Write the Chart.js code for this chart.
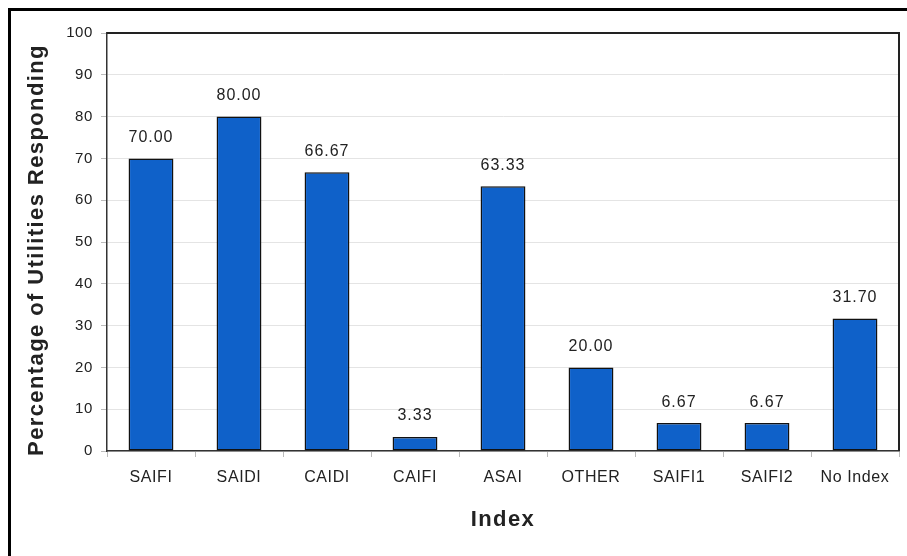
<!DOCTYPE html>
<html>
<head>
<meta charset="utf-8">
<script src="https://cdn.jsdelivr.net/npm/chart.js@4.4.1/dist/chart.umd.min.js"></script>
<style>
  html, body { margin: 0; padding: 0; background: #fff; }
  #wrap { position: relative; width: 907px; height: 556px; }
  #frame { position: absolute; left: 8px; top: 8px; right: -5px; bottom: -5px; border-top: 3px solid #000; border-left: 3px solid #000; pointer-events: none; }
</style>
</head>
<body>
<div id="wrap">
  <canvas id="myChart" width="907" height="556"></canvas>
  <div id="frame"></div>
</div>
<script>
const categories = ['SAIFI', 'SAIDI', 'CAIDI', 'CAIFI', 'ASAI', 'OTHER', 'SAIFI1', 'SAIFI2', 'No Index'];
const percentages = [70.00, 80.00, 66.67, 3.33, 63.33, 20.00, 6.67, 6.67, 31.70];
const yTicks = [0, 10, 20, 30, 40, 50, 60, 70, 80, 90, 100];
const xTitle = 'Index';
const yTitle = 'Percentage of Utilities Responding';

const FONT = 'Arial, "Liberation Sans", sans-serif';

// the original's text runs a little wider than Arial
const spacing = {
  id: 'spacing',
  beforeUpdate(chart) { chart.ctx.letterSpacing = '0.6px'; },
  beforeDraw(chart) { chart.ctx.letterSpacing = '0.6px'; }
};

// value labels, axis titles and plot border on top/right
const extras = {
  id: 'extras',
  afterDatasetsDraw(chart) {
    const ctx = chart.ctx;
    const meta = chart.getDatasetMeta(0);
    const a = chart.chartArea;
    ctx.save();
    ctx.font = '16px ' + FONT;
    ctx.letterSpacing = '1px';
    ctx.fillStyle = '#222';
    ctx.textAlign = 'center';
    ctx.textBaseline = 'bottom';
    meta.data.forEach((bar, i) => {
      ctx.fillText(percentages[i].toFixed(2), bar.x, bar.y - 13);
    });

    ctx.font = 'bold 22px ' + FONT;
    ctx.letterSpacing = '1.4px';
    ctx.textBaseline = 'middle';
    ctx.fillText(xTitle, (a.left + a.right) / 2, 520);
    ctx.save();
    ctx.translate(37, (a.top + a.bottom) / 2 + 8);
    ctx.rotate(-Math.PI / 2);
    ctx.fillText(yTitle, 0, 0);
    ctx.restore();

    ctx.strokeStyle = '#222';
    ctx.lineWidth = 2;
    ctx.beginPath();
    ctx.moveTo(a.left, a.top);
    ctx.lineTo(a.right, a.top);
    ctx.lineTo(a.right, a.bottom);
    ctx.stroke();
    ctx.restore();
  }
};

const ctx = document.getElementById('myChart');
new Chart(ctx, {
  type: 'bar',
  data: {
    labels: categories,
    datasets: [{
      data: percentages,
      backgroundColor: '#0f61c9',
      borderColor: '#111',
      borderWidth: 1.5,
      borderSkipped: false,
      categoryPercentage: 1,
      barPercentage: 0.51
    }]
  },
  options: {
    responsive: false,
    animation: false,
    layout: { padding: { left: 0, top: 33, right: 8, bottom: 0 } },
    plugins: {
      legend: { display: false },
      tooltip: { enabled: false }
    },
    scales: {
      x: {
        grid: { display: true, drawOnChartArea: false, offset: true, tickLength: 6, color: '#bbb' },
        border: { color: '#333', width: 1.5 },
        ticks: {
          color: '#222',
          font: { family: FONT, size: 16 },
          padding: 11,
          maxRotation: 0
        },
        afterFit(scale) { scale.height = 105; }
      },
      y: {
        min: 0,
        max: 100,
        afterBuildTicks(scale) { scale.ticks = yTicks.map(v => ({ value: v })); },
        grid: { color: '#e4e4e4', tickLength: 6, tickColor: '#bbb' },
        border: { color: '#333', width: 1.5 },
        ticks: {
          color: '#222',
          font: { family: FONT, size: 15 },
          padding: 8
        },
        afterFit(scale) { scale.width = 107; }
      }
    }
  },
  plugins: [spacing, extras]
});
</script>
</body>
</html>
